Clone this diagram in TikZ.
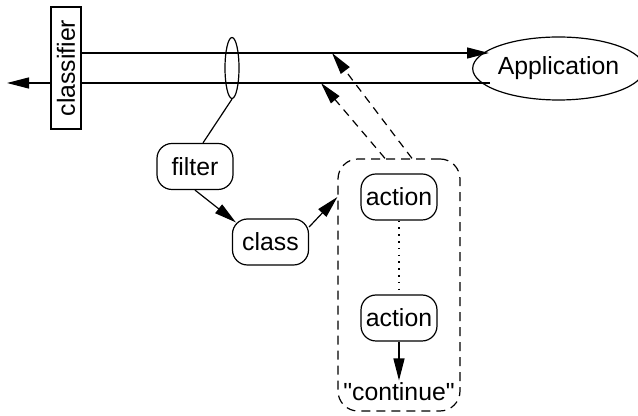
\documentclass[tikz,border=0pt]{standalone}
\usepackage{fontspec}
\setmainfont{Liberation Sans}
\usetikzlibrary{arrows.meta,shapes.geometric,calc}
% straight double quote, set as the font's own glyph
\newcommand\straightquote{\XeTeXglyph\XeTeXcharglyph"22\relax}
\begin{document}
\begin{tikzpicture}[x=0.5pt,y=-0.5pt,
  every node/.style={font=\fontsize{12.4pt}{14pt}\selectfont},
  line/.style={line width=0.6pt},
  tip/.style={-{Triangle[length=11pt,width=5.5pt]}},
  box/.style={draw,line width=0.6pt,rounded corners=7.5pt,minimum width=38pt,minimum height=23pt,inner sep=0pt},
  oval/.style={draw,line width=0.6pt,ellipse,inner sep=0pt},
  dashedlink/.style={line width=0.6pt,dash pattern=on 4pt off 3pt}]
\useasboundingbox (0,0) rectangle (638,416);

% the two channel lines and the application
\node[oval,minimum width=78.5pt,minimum height=31.5pt] (app) at (558.5,68.5) {Application};
\coordinate (t1) at (489,53);
\coordinate (b1) at (490,83);
\coordinate (b0) at (7,83);
\draw[line,tip] (b1) -- (b0);

% classifier block
\node[draw,line width=0.6pt,fill=white,rotate=90,minimum width=61pt,minimum height=15pt,inner sep=0pt] (cls) at (66,68) {classifier};
\draw[line,tip] (cls.south |- t1) -- (t1);

% ring around both lines
\node[oval,minimum width=7pt,minimum height=30.5pt] (ring) at (232,68) {};

% filter and class
\node[box] (filter) at (195,166.5) {filter};
\node[box] (class) at (270.5,242) {class};
\draw[line] (ring.south) -- ($(filter.north)+(8,0)$);
\draw[line,tip] (filter.south) -- ($(class.north west)+(4,4)$);

% dashed group of actions
\node[draw,line width=0.6pt,dash pattern=on 4.5pt off 3pt,rounded corners=10pt,minimum width=61pt,minimum height=126pt] (grp) at (399,285) {};
\node[box] (act1) at (399,197) {action};
\node[box] (act2) at (399,318) {action};
\node[inner sep=1pt] (cont) at (399,392) {\straightquote continue\straightquote};
\draw[line,tip] ($(class.east)+(0,-15)$) -- (grp.west |- act1);
\draw[line,dash pattern=on 0.8pt off 2.6pt] (act1.south) -- (act2.south |- act2.north);
\draw[line,tip] (act2.south) -- (cont.north);

% results fed back to the channel
\coordinate (p1) at (321,83);
\coordinate (p2) at (332,53);
\draw[dashedlink,tip] ($(grp.north)+(-14,0)$) -- (p1);
\draw[dashedlink,tip] ($(grp.north)+(13,0)$) -- (p2);
\end{tikzpicture}
\end{document}
